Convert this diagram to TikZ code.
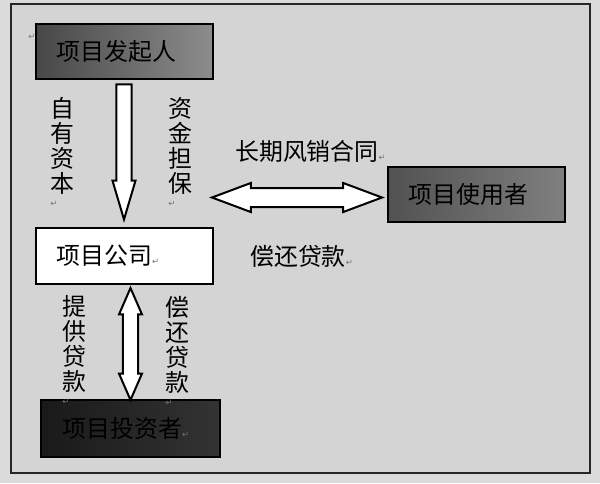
\documentclass[tikz,border=0pt]{standalone}
\usepackage{fontspec}
\newfontfamily\cjk{Noto Sans CJK SC}
\newfontfamily\symfont{DejaVu Sans}
\usepackage{tikz}
\usetikzlibrary{calc, positioning, shapes.arrows}
\tikzstyle{party}=[draw=black, line width=0.05cm, minimum width=4.425cm, minimum height=1.375cm, text width=3.4cm, inner xsep=0.5cm, align=left, font=\cjk\fontsize{17}{18}\selectfont]
\tikzstyle{flowtext}=[inner sep=0pt, align=left, font=\cjk\fontsize{17}{17.8}\selectfont]
\tikzstyle{blockarrow}=[draw=black, line width=0.05cm, fill=white, minimum width=0pt]
\newcommand{\pmark}{{\symfont\fontsize{6}{6}\selectfont\color{black!55}↵}}

\begin{document}
\begin{tikzpicture}[x=0.025cm, y=-0.025cm]
    \useasboundingbox (0,0) rectangle (600,483);
    \fill[black!14] (0,0) rectangle (600,483);
    \fill[black!17] (11,4) rectangle (590,473);
    \draw[line width=0.05cm, black!85] (11,4) rectangle (590,473);

    \node[party, left color=black!72, middle color=black!50, right color=black!45]  (sponsor)  at (124.5,51.5) {项目发起人};
    \node[party, fill=white, minimum height=1.4cm]                                  (company)  at (124.5,256)  {项目公司\pmark};
    \node[party, left color=black!68, middle color=black!40, right color=black!50]  (user)     at (476.5,194.5) {项目使用者\pmark};
    \node[party, left color=black!90, right color=black!80, minimum width=4.475cm, minimum height=1.425cm] (investor) at (130.5,428.5) {项目投资者\pmark};
    \node[inner sep=0pt] (sponsormark) at (32,37) {\pmark};

    \node[blockarrow, single arrow, shape border rotate=270, minimum height=3.375cm, inner sep=0.1625cm,
          single arrow head extend=0.1cm, single arrow tip angle=33, anchor=tip]
          (equity) at ($(company.north)+(-0.5,-4)$) {};
    \node[blockarrow, double arrow, minimum height=4.25cm, inner sep=0.2125cm,
          double arrow head extend=0.125cm, double arrow tip angle=41]
          (contract) at (297,197.5) {};
    \node[blockarrow, double arrow, shape border rotate=90, minimum height=2.8cm, inner sep=0.1625cm,
          double arrow head extend=0.1cm, double arrow tip angle=47]
          (loan) at ($(company.south)!0.5!(investor.north)+(3,2)$) {};

    \node[flowtext, anchor=north west] (owncap)    at (50,97)   {自\\有\\资\\本\\[-8pt]\pmark};
    \node[flowtext, anchor=north west] (guarantee) at (168,97)  {资\\金\\担\\保\\[-8pt]\pmark};
    \node[flowtext, anchor=west]       (salesdeal) at (235,151) {长期风销合同\pmark};
    \node[flowtext, anchor=west]       (repayuser) at (250,256) {偿还贷款\pmark};
    \node[flowtext, anchor=north west] (lend)      at (62,295)  {提\\供\\贷\\款\\[-8pt]\pmark};
    \node[flowtext, anchor=north west] (repay)     at (165,296) {偿\\还\\贷\\款\\[-8pt]\pmark};
\end{tikzpicture}
\end{document}
